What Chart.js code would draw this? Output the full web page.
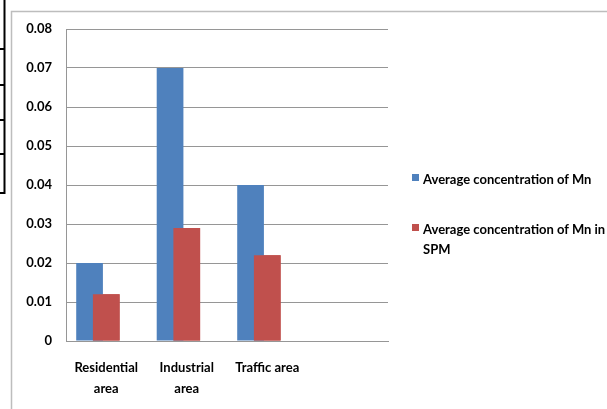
<!DOCTYPE html>
<html>
<head>
<meta charset="utf-8">
<script src="https://cdn.jsdelivr.net/npm/chart.js@4.4.1/dist/chart.umd.min.js"></script>
<style>
  html, body { margin: 0; padding: 0; background: #fff; overflow: hidden; }
  #wrap { position: relative; width: 607px; height: 409px; }
  canvas { position: absolute; left: 0; top: 0; }
  .legend-item { position: absolute; left: 412px; width: 200px; font: bold 13px Lato, "DejaVu Sans", sans-serif; color: #000; line-height: 20px; }
  .legend-item .box { position: absolute; left: 0; top: 5px; width: 7px; height: 7px; }
  .legend-item .txt { margin-left: 11px; }
</style>
</head>
<body>
<div id="wrap">
  <canvas id="chart" width="607" height="409"></canvas>
</div>
<script>
// Sampling sites (the fourth slot of the category axis is left empty)
const categories = [['Residential', 'area'], ['Industrial', 'area'], 'Traffic area', ''];

// Mn concentrations per site
const avgMn = [0.02, 0.07, 0.04];
const avgMnSPM = [0.012, 0.029, 0.022];

const seriesNames = ['Average concentration of Mn', 'Average concentration of Mn in SPM'];
const seriesColors = ['#4F81BD', '#C0504D'];

// Value axis
const yMin = 0, yMax = 0.08, yStep = 0.01;
const yTickLabels = ['0', '0.01', '0.02', '0.03', '0.04', '0.05', '0.06', '0.07', '0.08'];

const gridColor = '#969696';
const fontFamily = 'Lato, "DejaVu Sans", sans-serif';

// Frame around the chart and the ruled lines of the page table at its left
const framePlugin = {
  id: 'frame',
  beforeDraw(chart) {
    const ctx = chart.ctx;
    ctx.save();
    ctx.fillStyle = '#fff';
    ctx.fillRect(0, 0, chart.width, chart.height);
    ctx.strokeStyle = '#bdbdbd';
    ctx.lineWidth = 1.5;
    ctx.strokeRect(11.5, 11.5, chart.width + 50, chart.height + 50);
    ctx.strokeStyle = '#000';
    ctx.lineWidth = 2;
    ctx.beginPath();
    ctx.moveTo(4.5, 0);
    ctx.lineTo(4.5, 194);
    [49, 85, 120, 154, 193].forEach(y => { ctx.moveTo(0, y); ctx.lineTo(5.5, y); });
    ctx.stroke();
    ctx.restore();
  }
};

// Overlapping bars: the second series is painted over the first
const overlapPlugin = {
  id: 'overlap',
  afterDatasetsDraw(chart) {
    const meta = chart.getDatasetMeta(1);
    if (meta && !meta.hidden) meta.controller.draw();
  }
};

const chart = new Chart(document.getElementById('chart'), {
  type: 'bar',
  data: {
    labels: categories,
    datasets: [
      { label: seriesNames[0], data: avgMn, backgroundColor: seriesColors[0] },
      { label: seriesNames[1], data: avgMnSPM, backgroundColor: seriesColors[1] },
      { label: '', data: [], backgroundColor: 'rgba(0,0,0,0)' }
    ]
  },
  options: {
    responsive: false,
    animation: false,
    devicePixelRatio: 1,
    categoryPercentage: 0.622,
    barPercentage: 1.6,
    layout: { padding: { left: 0, right: 219, top: 29, bottom: 0 } },
    plugins: { legend: { display: false }, tooltip: { enabled: false } },
    scales: {
      x: {
        grid: { display: false, drawTicks: false },
        border: { display: true, color: gridColor, width: 1 },
        ticks: {
          color: '#000',
          padding: 16,
          maxRotation: 0,
          autoSkip: false,
          font: { family: fontFamily, size: 13, weight: 'bold', lineHeight: 1.65 }
        },
        afterFit(scale) { scale.height = 68; }
      },
      y: {
        min: yMin,
        max: yMax,
        grid: { color: gridColor, lineWidth: 1, drawTicks: false },
        border: { display: true, color: gridColor, width: 1 },
        ticks: {
          stepSize: yStep,
          color: '#000',
          padding: 14,
          font: { family: fontFamily, size: 13, weight: 'bold' },
          callback: (v, i) => yTickLabels[i]
        },
        afterFit(scale) { scale.width = 66; }
      }
    }
  },
  plugins: [framePlugin, overlapPlugin]
});

// Legend at the right, built from the series names and colours
const wrap = document.getElementById('wrap');
seriesNames.forEach((name, i) => {
  const item = document.createElement('div');
  item.className = 'legend-item';
  item.style.top = (169 + i * 50) + 'px';
  const box = document.createElement('span');
  box.className = 'box';
  box.style.background = seriesColors[i];
  const txt = document.createElement('div');
  txt.className = 'txt';
  txt.textContent = name;
  item.appendChild(box);
  item.appendChild(txt);
  wrap.appendChild(item);
});
</script>
</body>
</html>
